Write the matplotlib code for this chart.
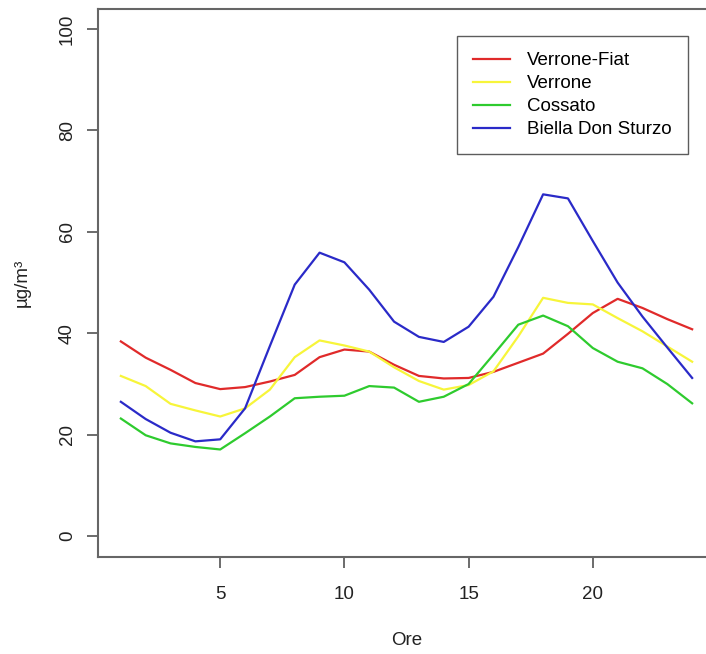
import numpy as np
import matplotlib
matplotlib.use("Agg")
import matplotlib.pyplot as plt

plt.rcParams['font.family'] = ['Liberation Sans', 'DejaVu Sans']

# ore del giorno
ore = np.arange(1, 25)

# medie orarie (µg/m³)
verrone_fiat = [38.4, 35.2, 32.8, 30.2, 29.0, 29.4, 30.5, 31.8, 35.3, 36.8, 36.4, 33.8,
                31.6, 31.1, 31.2, 32.4, 34.2, 36.0, 39.9, 44.0, 46.8, 45.0, 42.8, 40.8]
verrone = [31.6, 29.6, 26.1, 24.8, 23.6, 25.2, 28.9, 35.3, 38.6, 37.6, 36.4, 33.3,
           30.6, 28.9, 29.8, 32.5, 39.4, 47.0, 46.0, 45.7, 43.0, 40.4, 37.4, 34.4]
cossato = [23.2, 19.9, 18.3, 17.6, 17.1, 20.3, 23.6, 27.2, 27.5, 27.7, 29.6, 29.3,
           26.5, 27.5, 30.0, 35.8, 41.7, 43.5, 41.4, 37.1, 34.4, 33.1, 30.0, 26.2]
biella = [26.5, 23.1, 20.4, 18.7, 19.1, 25.2, 37.5, 49.6, 55.9, 54.0, 48.6, 42.3,
          39.3, 38.3, 41.3, 47.2, 57.0, 67.4, 66.6, 58.2, 50.0, 43.3, 37.2, 31.2]

serie = [("Verrone-Fiat", verrone_fiat, "#e02a2a"),
         ("Verrone", verrone, "#f7f53a"),
         ("Cossato", cossato, "#2ecb2e"),
         ("Biella Don Sturzo", biella, "#2a2ac8")]

W, H = 706, 654
fig = plt.figure(figsize=(W / 100, H / 100), dpi=100)
# il riquadro a destra esce dall'immagine, come nell'originale
ax = fig.add_axes([98 / W, 1 - 556.5 / H, 617 / W, 547.8 / H])

for nome, val, col in serie:
    ax.plot(ore, val, color=col, lw=1.6, label=nome)

# assi stile R (estensione 4%)
ax.set_xlim(1 - 0.04 * 23, 24 + 0.04 * 23)
ax.set_ylim(-4, 104)
ax.set_xticks([5, 10, 15, 20])
ax.set_yticks([0, 20, 40, 60, 80, 100])
ax.tick_params(direction='out', length=8, width=1.1, colors='#444444',
               labelcolor='#222222', labelsize=13.5)
ax.tick_params(axis='x', pad=13)
ax.tick_params(axis='y', pad=8)
plt.setp(ax.get_yticklabels(), rotation=90, va='center')
for s in ax.spines.values():
    s.set_color('#666666')
    s.set_linewidth(1.5)

ax.set_xlabel("Ore", fontsize=13.5, color='#222222', labelpad=21)
ax.set_ylabel("µg/m³", fontsize=13.5, color='#222222', labelpad=20)

leg = ax.legend(loc='upper left', bbox_to_anchor=(457 / W, 1 - 36 / H),
                bbox_transform=fig.transFigure, fontsize=13.5,
                frameon=True, fancybox=False, handlelength=2.0, handletextpad=0.9,
                borderpad=0.85, labelspacing=0.32, borderaxespad=0)
leg.get_frame().set_edgecolor('#333333')
leg.get_frame().set_linewidth(1.0)

fig.savefig("out.png", dpi=100)
